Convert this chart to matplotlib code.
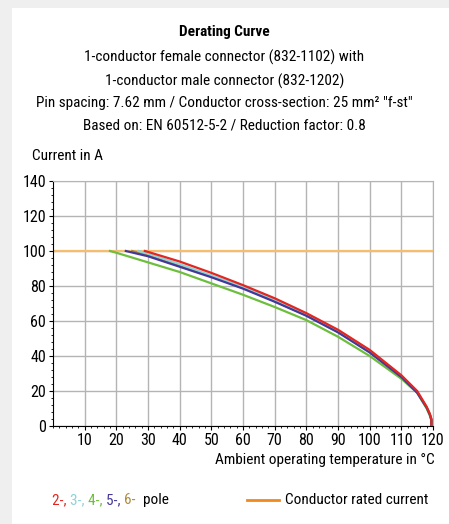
import matplotlib
matplotlib.use("Agg")
import matplotlib.pyplot as plt
from matplotlib.patches import Rectangle
from matplotlib.ticker import MultipleLocator

plt.rcParams["font.family"] = ["Roboto Condensed", "DejaVu Sans"]

# values
temp_2 = [29, 30, 40, 50, 60, 70, 80, 90, 100, 110, 115, 118, 119, 119.5, 119.5]
curr_2 = [100, 99.5, 94, 87.5, 80.5, 73, 64.5, 55, 43.5, 29, 20, 11, 7, 4, 0]
temp_3 = [27, 30, 40, 50, 60, 70, 80, 90, 100, 110, 115, 118, 119, 119.5, 119.5]
curr_3 = [100, 98.5, 92.5, 86, 79.5, 72, 63.5, 54, 43, 28.5, 19.5, 10.5, 6.5, 3.5, 0]
temp_4 = [18, 20, 30, 40, 50, 60, 70, 80, 90, 100, 110, 115, 118, 119, 119.5, 119.5]
curr_4 = [100, 99, 93.5, 88, 81.5, 75, 68, 60.5, 51, 40, 27, 19, 10, 6, 3, 0]
temp_5 = [23, 30, 40, 50, 60, 70, 80, 90, 100, 110, 115, 118, 119, 119.5, 119.5]
curr_5 = [100, 97, 91, 85, 78.5, 71, 63, 53.5, 42, 28, 19, 10.5, 6.5, 3.5, 0]
temp_6 = [25, 30, 40, 50, 60, 70, 80, 90, 100, 110, 115, 118, 119, 119.5, 119.5]
curr_6 = [100, 97.5, 91.5, 85.5, 79, 71.5, 63.2, 53.8, 42.5, 28.2, 19.2, 10.5, 6.5, 3.5, 0]
rated_temp = [0, 120]
rated_curr = [100, 100]

fs = 11

fig = plt.figure(figsize=(4.49, 5.24), dpi=100, facecolor="#EFEFEF")
fig.patches.append(Rectangle((12 / 449, 0), 1, 1 - 8 / 524, transform=fig.transFigure,
                             facecolor="white", edgecolor="none", zorder=-1))

ax = fig.add_axes([53 / 449, 1 - 426 / 524, 380 / 449, 245 / 524])
ax.plot(rated_temp, rated_curr, color="#F5BE6E", lw=1.6, zorder=2)
ax.plot(temp_6, curr_6, color="#B08A3C", lw=1.6, zorder=3)
ax.plot(temp_3, curr_3, color="#8ED3D6", lw=1.6, zorder=3)
ax.plot(temp_4, curr_4, color="#6DBE3C", lw=1.6, zorder=4)
ax.plot(temp_5, curr_5, color="#43389A", lw=1.6, zorder=4)
ax.plot(temp_2, curr_2, color="#E3261F", lw=1.6, zorder=5)

ax.set_xlim(0, 120)
ax.set_ylim(0, 140)
ax.set_xticks(range(10, 121, 10))
ax.set_yticks(range(0, 141, 20))
ax.xaxis.set_minor_locator(MultipleLocator(2))
ax.yaxis.set_minor_locator(MultipleLocator(4))
ax.grid(True, which="major", color="#B4B4B4", lw=1)
ax.set_axisbelow(True)
for side in ("top", "right"):
    ax.spines[side].set_color("#B4B4B4")
for side in ("left", "bottom"):
    ax.spines[side].set_color("black")
    ax.spines[side].set_linewidth(0.8)
ax.tick_params(which="major", length=3, width=0.8, labelsize=fs + 0.5, pad=2)
ax.tick_params(which="minor", length=1.5, width=0.6)

fig.text(0.5, 1 - 32 / 524, "Derating Curve", ha="center", va="center", fontsize=fs, fontweight="bold")
fig.text(0.5, 1 - 57 / 524, "1-conductor female connector (832-1102) with", ha="center", va="center", fontsize=fs)
fig.text(0.5, 1 - 81 / 524, "1-conductor male connector (832-1202)", ha="center", va="center", fontsize=fs)
fig.text(0.5, 1 - 103 / 524, 'Pin spacing: 7.62 mm / Conductor cross-section: 25 mm² "f-st"',
         ha="center", va="center", fontsize=fs)
fig.text(0.5, 1 - 125 / 524, "Based on: EN 60512-5-2 / Reduction factor: 0.8", ha="center", va="center", fontsize=fs)
fig.text(32 / 449, 1 - 156 / 524, "Current in A", ha="left", va="center", fontsize=fs)
fig.text(435 / 449, 1 - 460 / 524, "Ambient operating temperature in °C", ha="right", va="center", fontsize=fs)

# legend
leg_y = 1 - 500 / 524
x = 52 / 449
fig.canvas.draw()
for label, col in [("2-, ", "#E3261F"), ("3-, ", "#8ED3D6"), ("4-, ", "#6DBE3C"),
                   ("5-, ", "#43389A"), ("6-", "#B08A3C"), ("  pole", "black")]:
    t = fig.text(x, leg_y, label, ha="left", va="center", fontsize=fs, color=col)
    x = t.get_window_extent(fig.canvas.get_renderer()).x1 / fig.bbox.width
fig.add_artist(plt.Line2D([247 / 449, 279 / 449], [leg_y, leg_y], color="#F08A1C", lw=2))
fig.text(285 / 449, leg_y, "Conductor rated current", ha="left", va="center", fontsize=fs)

fig.savefig("out.png", dpi=100, facecolor=fig.get_facecolor())
